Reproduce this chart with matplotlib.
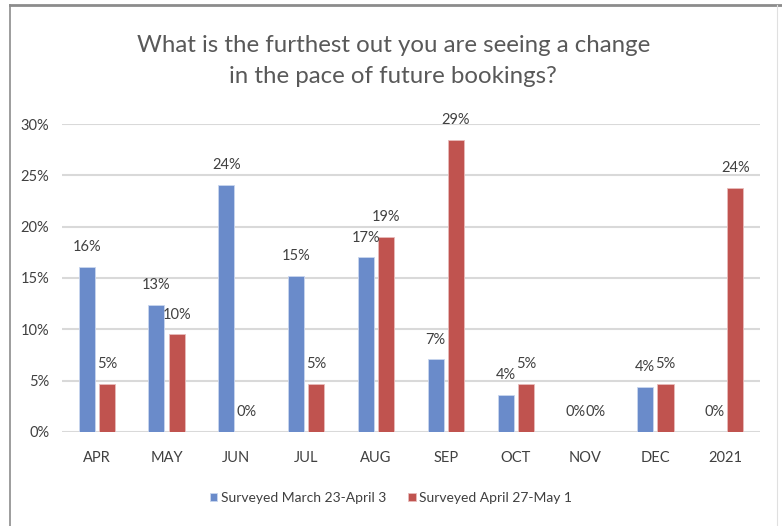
import matplotlib.pyplot as plt
import numpy as np
from matplotlib.lines import Line2D

# Dane
categories = ['APR', 'MAY', 'JUN', 'JUL', 'AUG', 'SEP', 'OCT', 'NOV', 'DEC', '2021']
march_values = [16.1, 12.4, 24.1, 15.2, 17.0, 7.1, 3.6, 0.0, 4.4, 0.0]
april_values = [4.7, 9.5, 0.0, 4.7, 19.0, 28.5, 4.7, 0.0, 4.7, 23.8]
march_labels = ['16%', '13%', '24%', '15%', '17%', '7%', '4%', '0%', '4%', '0%']
april_labels = ['5%', '10%', '0%', '5%', '19%', '29%', '5%', '0%', '5%', '24%']
series_names = ['Surveyed March 23-April 3', 'Surveyed April 27-May 1']
y_ticks = [0, 5, 10, 15, 20, 25, 30]

plt.rcParams['font.family'] = ['Lato', 'DejaVu Sans']
text_color = '#404040'
blue = '#6a8bca'
red = '#c0534f'

fig = plt.figure(figsize=(7.82, 5.26), dpi=100)
ax = fig.add_axes([0.079, 0.179, 0.893, 0.585])

x = np.arange(len(categories))
w = 0.23
off = 0.145
b1 = ax.bar(x - off, march_values, w, color=blue, edgecolor='#c9d6ee', linewidth=0.6,
            label=series_names[0], zorder=3)
b2 = ax.bar(x + off, april_values, w, color=red, edgecolor='#e8bcbb', linewidth=0.6,
            label=series_names[1], zorder=3)

for rects, labels in ((b1, march_labels), (b2, april_labels)):
    for r, lab in zip(rects, labels):
        ax.annotate(lab, (r.get_x() + r.get_width() / 2, r.get_height()),
                    xytext=(0, 9), textcoords='offset points', ha='center', va='bottom',
                    fontsize=10.5, color=text_color)

ax.set_ylim(0, 30)
ax.set_xlim(-0.5, len(categories) - 0.5)
ax.set_yticks(y_ticks)
ax.set_yticklabels([f'{t}%' for t in y_ticks])
ax.set_xticks(x)
ax.set_xticklabels(categories)
ax.tick_params(axis='both', length=0, labelsize=10.5, labelcolor=text_color)
ax.tick_params(axis='x', pad=14)
ax.tick_params(axis='y', pad=9)
ax.yaxis.grid(True, color='#d9d9d9', linewidth=1.5, zorder=0)
ax.set_axisbelow(True)
for s in ax.spines.values():
    s.set_visible(False)

fig.text(0.503, 0.884, 'What is the furthest out you are seeing a change\nin the pace of future bookings?',
         ha='center', va='center', fontsize=17.3, color='#595959', linespacing=1.55)

fig.legend(handles=[b1, b2], loc='center', bbox_to_anchor=(0.5, 0.053), ncol=2,
           frameon=False, fontsize=10, handlelength=0.55, handleheight=0.55,
           handletextpad=0.25, columnspacing=1.6, labelcolor=text_color)

# Ramka wokół wykresu
fig.add_artist(Line2D([10 / 782, 10 / 782], [0, 1 - 5 / 526], color='#8c8c8c', linewidth=1.2))
fig.add_artist(Line2D([10 / 782, 1], [1 - 5 / 526, 1 - 5 / 526], color='#8c8c8c', linewidth=2))
fig.add_artist(Line2D([777 / 782, 777 / 782], [0, 1 - 5 / 526], color='#e0e0e0', linewidth=0.8))

fig.savefig('out.png', dpi=100)
plt.close(fig)
